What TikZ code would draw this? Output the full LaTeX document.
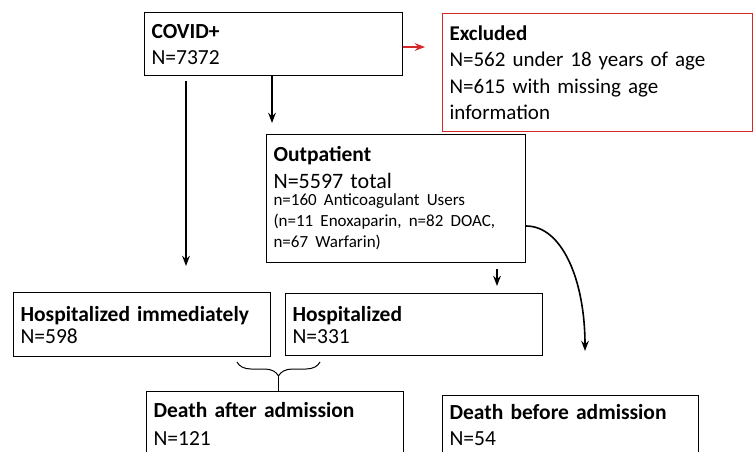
\documentclass[tikz,border=0pt]{standalone}
\usepackage{fontspec}
\setmainfont{Carlito}
\usepackage{xcolor}
\usetikzlibrary{arrows.meta,decorations.pathreplacing}
\definecolor{exred}{RGB}{214,40,40}

\tikzset{
  box/.style={draw, line width=1.1pt, anchor=north west, align=left,
    inner xsep=7pt, inner ysep=4pt, font=\fontsize{21.5}{26}\selectfont},
  arr/.style={->, line width=1.6pt}
}

\begin{document}
\begin{tikzpicture}[x=1pt,y=-1pt,>=Stealth]
  \useasboundingbox (0,0) rectangle (755,452);
  \clip (0,0) rectangle (755,452);

  \node[box, text width=244pt, minimum height=63pt] (covid) at (144,12)
    {\textbf{COVID+}\\N=7372};
  \node[box, draw=exred, text width=296pt, minimum height=118pt,
    font=\fontsize{21}{26.5}\selectfont] (excl) at (442,13)
    {\textbf{Excluded}\\N=562 under 18 years of age\\N=615 with missing age\\information};
  \node[box, text width=245pt, minimum height=128pt] (outpt) at (266,134)
    {\textbf{Outpatient}\\[1pt]{\fontsize{22}{25}\selectfont N=5597 total}\\[-4pt]
     \fontsize{17}{21}\selectfont n=160 Anticoagulant Users\\
      (n=11 Enoxaparin, n=82 DOAC,\\n=67 Warfarin)\par};
  \node[box, text width=243pt, minimum height=64pt,
    font=\fontsize{21.5}{22}\selectfont] (hospi) at (13,292)
    {\textbf{Hospitalized immediately}\\N=598\\[4pt]};
  \node[box, text width=243pt, minimum height=62pt,
    font=\fontsize{21.5}{22}\selectfont] (hosp) at (285,293)
    {\textbf{Hospitalized}\\N=331\\[4pt]};
  \node[box, text width=243pt, minimum height=64pt,
    font=\fontsize{21.5}{28}\selectfont] (dafter) at (146,391)
    {\textbf{Death after admission}\\N=121};
  \node[box, text width=242pt, minimum height=58pt,
    font=\fontsize{21.5}{26}\selectfont] (dbefore) at (442,395)
    {\textbf{Death before admission}\\N=54};

  % arrows
  \coordinate (a1) at (186,266);
  \draw[arr] (covid.south -| a1) ++(0,5) -- (a1);
  \draw[arr, shorten >=11pt] (covid.south -| 272,0) -- (outpt.north -| 272,0);
  \draw[arr, exred, shorten >=17pt] (covid.east |- 0,47) -- (excl.west |- 0,47);
  \draw[arr, shorten <=6pt, shorten >=7pt] (outpt.south -| 497,0) -- (hosp.north -| 497,0);
  \coordinate (a2) at (585,351);
  \draw[arr] (outpt.east |- 0,226) .. controls (562,226) and (585,280) .. (a2);

  % brace
  \coordinate (bl) at (237,362);
  \coordinate (br) at (320,362);
  \coordinate (btip) at (278,377);
  \draw[line width=1pt, decorate, decoration={brace, mirror, amplitude=14pt}] (bl) -- (br);
  \draw[line width=1pt] (btip) -- (btip |- dafter.north);
\end{tikzpicture}
\end{document}
